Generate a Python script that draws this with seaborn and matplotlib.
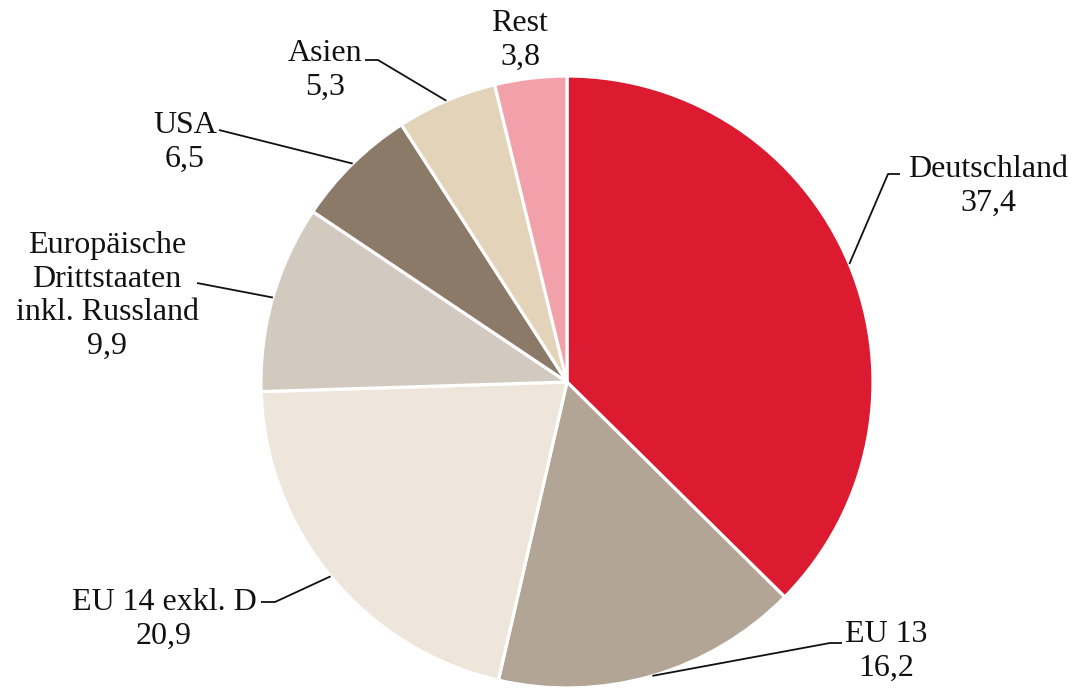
import numpy as np
import matplotlib
matplotlib.use("Agg")
import matplotlib.pyplot as plt
import seaborn as sns

categories = ["Deutschland", "EU 13", "EU 14 exkl. D",
              "Europäische\nDrittstaaten\ninkl. Russland", "USA", "Asien", "Rest"]
values = [37.4, 16.2, 20.9, 9.9, 6.5, 5.3, 3.8]
value_labels = ["37,4", "16,2", "20,9", "9,9", "6,5", "5,3", "3,8"]
colors = ["#DC1A30", "#B3A596", "#EEE6DB", "#D2C9BF", "#8C7A68", "#E3D3B9", "#F2A0AA"]

sns.set_theme(style="white")
plt.rcParams['font.family'] = ['Liberation Serif', 'DejaVu Serif']

W, H = 1075, 688
cx, cy, R = 567, 382, 306
fig = plt.figure(figsize=(W / 100, H / 100), dpi=100)
ax = fig.add_axes([0, 0, 1, 1])
ax.axis("off")

wedges, _ = ax.pie(values, colors=colors, startangle=90, counterclock=False,
                   radius=1.0, center=(0, 0),
                   wedgeprops=dict(edgecolor="white", linewidth=2.3))
ax.set_xlim(-cx / R, (W - cx) / R)
ax.set_ylim(-(H - cy) / R, cy / R)
ax.set_aspect("auto")


def px(x, y):
    return ((x - cx) / R, (cy - y) / R)


# label text center (px), leader path points (px) after the wedge edge point
layout = [
    ((988, 186), [(888, 174), (900, 174)]),
    ((886, 651), [(830, 643), (842, 643)]),
    ((164, 619), [(275, 602), (261, 602)]),
    ((107, 296), [(197, 283)]),
    ((185, 142), [(219, 130)]),
    ((325, 70), [(378, 60), (365, 60)]),
    ((520, 40), []),
]

for w, cat, vl, (tpos, path) in zip(wedges, categories, value_labels, layout):
    tx, ty = px(*tpos)
    ax.text(tx, ty, f"{cat}\n{vl}", ha="center", va="center", fontsize=23,
            linespacing=1.22, color="#111111")
    if path:
        mid = np.deg2rad((w.theta1 + w.theta2) / 2)
        pts = [(np.cos(mid), np.sin(mid))] + [px(*p) for p in path]
        xs, ys = zip(*pts)
        ax.plot(xs, ys, color="#111111", lw=1.3, solid_capstyle="butt")

fig.savefig("out.png", dpi=100)
